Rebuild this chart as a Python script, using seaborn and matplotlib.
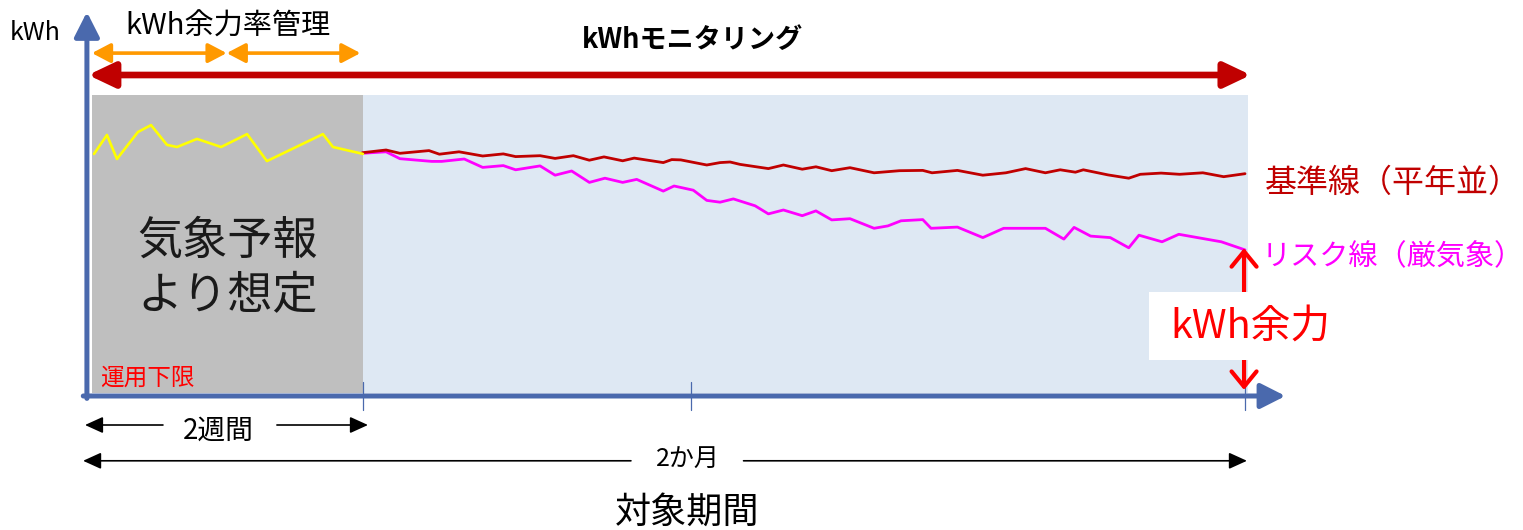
import matplotlib
matplotlib.use('Agg')
import matplotlib.pyplot as plt
import seaborn as sns
import pandas as pd
from matplotlib.patches import Rectangle

# x: days from start of the target period, y: kWh index (0 = operating lower limit)
forecast_days = [0.21, 0.88, 1.40, 2.49, 3.17, 4.00, 4.52, 5.56, 6.81, 8.16, 9.19, 12.10, 12.62, 14.18]
forecast_kwh = [79.7, 86.0, 78.0, 87.0, 89.3, 82.7, 82.0, 84.7, 82.0, 86.3, 77.3, 86.3, 82.0, 79.7]

base_days = [14.15, 15.38, 16.10, 17.61, 18.15, 19.17, 20.40, 21.47, 22.11, 23.38,
             24.16, 25.11, 25.94, 26.70, 27.67, 28.27, 29.78, 30.22, 30.69, 32.04,
             32.73, 33.25, 33.77, 35.24, 36.02, 37.00, 37.71, 38.53, 39.48, 40.73,
             42.05, 43.26, 43.74, 45.06, 46.38, 47.58, 48.60, 49.63, 50.40, 51.19,
             51.60, 52.88, 53.96, 54.56, 55.64, 56.60, 57.81, 58.89, 60.00]
base_kwh = [80.1, 81.0, 79.9, 80.8, 79.6, 80.4, 79.0, 79.7, 78.8, 79.1,
            78.2, 79.1, 77.6, 78.7, 77.4, 78.3, 76.8, 77.8, 77.7, 76.0,
            76.8, 77.0, 76.2, 74.8, 76.0, 74.6, 75.4, 74.1, 75.1, 73.4,
            74.1, 74.2, 73.4, 74.2, 72.6, 73.4, 74.8, 73.4, 74.4, 73.6,
            74.4, 72.7, 71.6, 72.9, 73.3, 72.9, 73.4, 72.1, 73.1]

risk_days = [14.15, 15.38, 16.10, 17.75, 18.27, 19.44, 20.40, 21.47, 22.11, 23.38,
             24.16, 25.02, 25.94, 26.75, 27.67, 28.40, 29.78, 30.34, 31.34, 32.04,
             32.73, 33.42, 34.55, 35.24, 36.02, 37.00, 37.71, 38.53, 39.48, 40.73,
             41.45, 42.13, 43.26, 43.69, 45.06, 46.38, 47.46, 49.63, 50.59, 51.12,
             51.98, 53.00, 53.96, 54.49, 55.69, 56.56, 58.77, 60.00]
risk_kwh = [79.9, 80.4, 78.1, 77.2, 77.2, 78.0, 75.2, 75.8, 74.4, 75.7,
            72.6, 74.0, 70.2, 71.6, 70.2, 71.2, 67.3, 69.0, 67.6, 64.2,
            63.6, 64.7, 62.4, 59.7, 61.0, 59.1, 60.7, 57.7, 58.1, 54.9,
            55.7, 57.4, 57.8, 54.9, 55.3, 51.8, 54.9, 54.9, 51.3, 55.2,
            52.3, 51.8, 48.4, 52.6, 50.4, 52.9, 50.4, 47.7]

forecast_end = 14.18   # 2週間
tick_days = [14.18, 31.2, 60.0]

sns.set_theme(style='white')
plt.rcParams['font.family'] = ['Noto Sans CJK JP', 'DejaVu Sans']

AXIS_BLUE = '#4A69AD'
DARK_RED = '#C00000'

fig = plt.figure(figsize=(15.23, 5.30), dpi=100)
ax = fig.add_axes([0, 0, 1, 1])

# background areas
ax.add_patch(Rectangle((0.1, 0), forecast_end - 0.1, 99.3, color='#BFBFBF', lw=0, zorder=1))
ax.add_patch(Rectangle((forecast_end, 0), 60.16 - forecast_end, 99.3, color='#DEE8F3', lw=0, zorder=1))

# series
df_f = pd.DataFrame({'day': forecast_days, 'kwh': forecast_kwh})
df_b = pd.DataFrame({'day': base_days, 'kwh': base_kwh})
df_r = pd.DataFrame({'day': risk_days, 'kwh': risk_kwh})
sns.lineplot(data=df_r, x='day', y='kwh', color='#FF00FF', lw=2.0, sort=False, estimator=None, ax=ax, zorder=3)
sns.lineplot(data=df_b, x='day', y='kwh', color=DARK_RED, lw=2.0, sort=False, estimator=None, ax=ax, zorder=4)
sns.lineplot(data=df_f, x='day', y='kwh', color='#FFFF00', lw=1.9, sort=False, estimator=None, ax=ax, zorder=4)
ax.set_xlim(-4.675, 74.44)
ax.set_ylim(-45.67, 131)
ax.axis('off')


def arrow(x0, y0, x1, y1, style, color, lw, ms, z=5):
    ax.annotate('', xy=(x1, y1), xytext=(x0, y0),
                arrowprops=dict(arrowstyle=style, color=color, lw=lw,
                                shrinkA=0, shrinkB=0, mutation_scale=ms),
                zorder=z)


# ticks on the time axis
for d in tick_days:
    ax.plot([d, d], [3.7, -5.7], color=AXIS_BLUE, lw=0.9, zorder=5)

# axes arrows
arrow(-0.16, -1.8, -0.16, 127, '-|>,head_length=0.75,head_width=0.38', AXIS_BLUE, 3.6, 20, 6)
arrow(-0.35, -1.0, 62.1, -1.0, '-|>,head_length=0.75,head_width=0.38', AXIS_BLUE, 3.6, 20, 6)

# top arrows
arrow(-0.1, 106, 60.3, 106, '<|-|>,head_length=0.8,head_width=0.38', DARK_RED, 4.8, 20)
arrow(0.1, 113.3, 7.1, 113.3, '<|-|>,head_length=0.8,head_width=0.42', '#FF9900', 2.6, 14)
arrow(7.1, 113.3, 14.05, 113.3, '<|-|>,head_length=0.8,head_width=0.42', '#FF9900', 2.6, 14)

# kWh margin arrow + label box
arrow(59.95, 1.0, 59.95, 48.3, '<->,head_length=0.55,head_width=0.45', '#FF0000', 3.0, 20)
ax.add_patch(Rectangle((55.0, 11.0), 9.9, 22.7, color='white', lw=0, zorder=7))
ax.text(56.1, 22.3, 'kWh余力', color='#FF0000', fontsize=28.5, va='center', ha='left', zorder=8)

# dimension arrows below
arrow(3.79, -10.67, -0.26, -10.67, '-|>,head_length=1.1,head_width=0.5', 'black', 1.2, 10)
arrow(9.71, -10.67, 14.44, -10.67, '-|>,head_length=1.1,head_width=0.5', 'black', 1.2, 10)
ax.text(6.65, -12.6, '2週間', fontsize=20, ha='center', va='center', color='black')
arrow(28.1, -22.6, -0.36, -22.6, '-|>,head_length=1.1,head_width=0.5', 'black', 1.2, 10)
arrow(33.95, -22.6, 60.1, -22.6, '-|>,head_length=1.1,head_width=0.5', 'black', 1.2, 10)
ax.text(31.06, -22.3, '2か月', fontsize=18, ha='center', va='center', color='black')
ax.text(31.0, -40.0, '対象期間', fontsize=26, ha='center', va='center', color='black')

# labels
ax.text(-4.16, 120.0, 'kWh', fontsize=18, ha='left', va='center', color='black')
ax.text(1.82, 122.0, 'kWh余力率管理', fontsize=21, ha='left', va='center', color='black')
ax.text(31.3, 117.7, 'kWhモニタリング', fontsize=19.5, fontweight='bold', ha='center', va='center', color='black')
ax.text(2.44, 50.7, '気象予報', fontsize=32.5, ha='left', va='center', color='#1a1a1a', zorder=6)
ax.text(2.44, 32.3, 'より想定', fontsize=32.5, ha='left', va='center', color='#1a1a1a', zorder=6)
ax.text(0.52, 5.0, '運用下限', fontsize=17, ha='left', va='center', color='#FF0000', zorder=6)
ax.text(61.04, 70.0, '基準線（平年並）', fontsize=23, ha='left', va='center', color=DARK_RED)
ax.text(60.88, 45.3, 'リスク線（厳気象）', fontsize=21, ha='left', va='center', color='#FF00FF')

fig.savefig('out.png', dpi=100, facecolor='white')
